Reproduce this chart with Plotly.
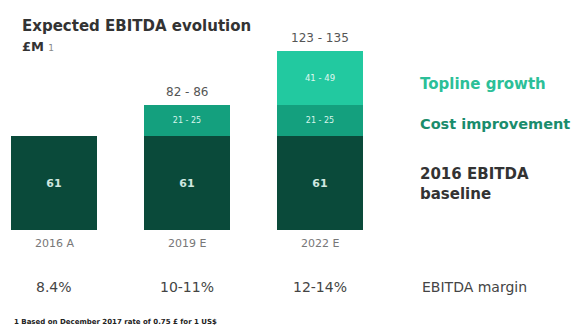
import plotly.graph_objects as go

categories = ["2016 A", "2019 E", "2022 E"]
baseline = [61, 61, 61]
cost_impr = [0, 20, 20]
topline = [0, 0, 35]
baseline_lbl = ["61", "61", "61"]
cost_lbl = ["", "21 - 25", "21 - 25"]
topline_lbl = ["", "", "41 - 49"]
totals_lbl = ["", "82 - 86", "123 - 135"]
margins = ["8.4%", "10-11%", "12-14%"]

DARK = "#0a4a3a"
MID = "#14a07e"
LIGHT = "#22c9a0"
FONT = "DejaVu Sans, Verdana, sans-serif"

W, H = 574, 336
xs = list(range(len(categories)))

fig = go.Figure()
fig.add_bar(x=xs, y=baseline, marker_color=DARK, width=0.64,
            text=baseline_lbl, textposition="inside", insidetextanchor="middle",
            texttemplate="<b>%{text}</b>",
            textfont=dict(size=11, color="#d0e8e0", family=FONT), marker_line_width=0)
fig.add_bar(x=xs, y=cost_impr, marker_color=MID, width=0.64,
            text=cost_lbl, textposition="inside", insidetextanchor="middle",
            textfont=dict(size=8, color="#d8f5ec", family=FONT), marker_line_width=0)
fig.add_bar(x=xs, y=topline, marker_color=LIGHT, width=0.64,
            text=topline_lbl, textposition="inside", insidetextanchor="middle",
            textfont=dict(size=8.5, color="#e0f8f0", family=FONT), marker_line_width=0)

def py(pixel):
    return 1 - pixel / H

ann = []
for i, c in enumerate(categories):
    tot = baseline[i] + cost_impr[i] + topline[i]
    if totals_lbl[i]:
        ann.append(dict(x=i, y=tot, text=totals_lbl[i], showarrow=False, yanchor="bottom",
                        yshift=4, font=dict(size=12, color="#555", family=FONT)))
    ann.append(dict(x=i, y=py(243), yref="paper", yanchor="middle", text=c, showarrow=False,
                    font=dict(size=11, color="#777", family=FONT)))
    ann.append(dict(x=i, y=py(287), yref="paper", yanchor="middle", text=margins[i],
                    showarrow=False, font=dict(size=14, color="#444", family=FONT)))

def lab(x, y, text, size, color, align="left"):
    return dict(x=x / W, y=py(y), xref="paper", yref="paper", xanchor="left",
                yanchor="middle", align=align, showarrow=False, text=text,
                font=dict(size=size, color=color, family=FONT))

ann += [
    lab(20, 26, "<b>Expected EBITDA evolution</b>", 15, "#333"),
    lab(20, 47, "<b>£M</b> <span style='font-size:9px;color:#888'>1</span>", 13, "#333"),
    lab(418, 84, "<b>Topline growth</b>", 15, "#2cbf98"),
    lab(418, 124, "<b>Cost improvement</b>", 14.5, "#1a8c6c"),
    lab(418, 184, "<b>2016 EBITDA<br>baseline</b>", 15, "#333"),
    lab(420, 287, "EBITDA margin", 14, "#444"),
    lab(12, 322, "<b>1 Based on December 2017 rate of 0.75 £ for 1 US$</b>", 7, "#222"),
]

px_per_unit = 94 / 61
fig.update_layout(
    width=W, height=H, autosize=False, barmode="stack", showlegend=False,
    margin=dict(l=0, r=0, t=0, b=0),
    paper_bgcolor="white", plot_bgcolor="white",
    xaxis=dict(range=[-54 / 133, (W - 54) / 133], visible=False),
    yaxis=dict(range=[-(H - 230) / px_per_unit, 230 / px_per_unit], visible=False),
    annotations=ann, uniformtext=dict(mode=False),
)
fig.write_html("out.html")
